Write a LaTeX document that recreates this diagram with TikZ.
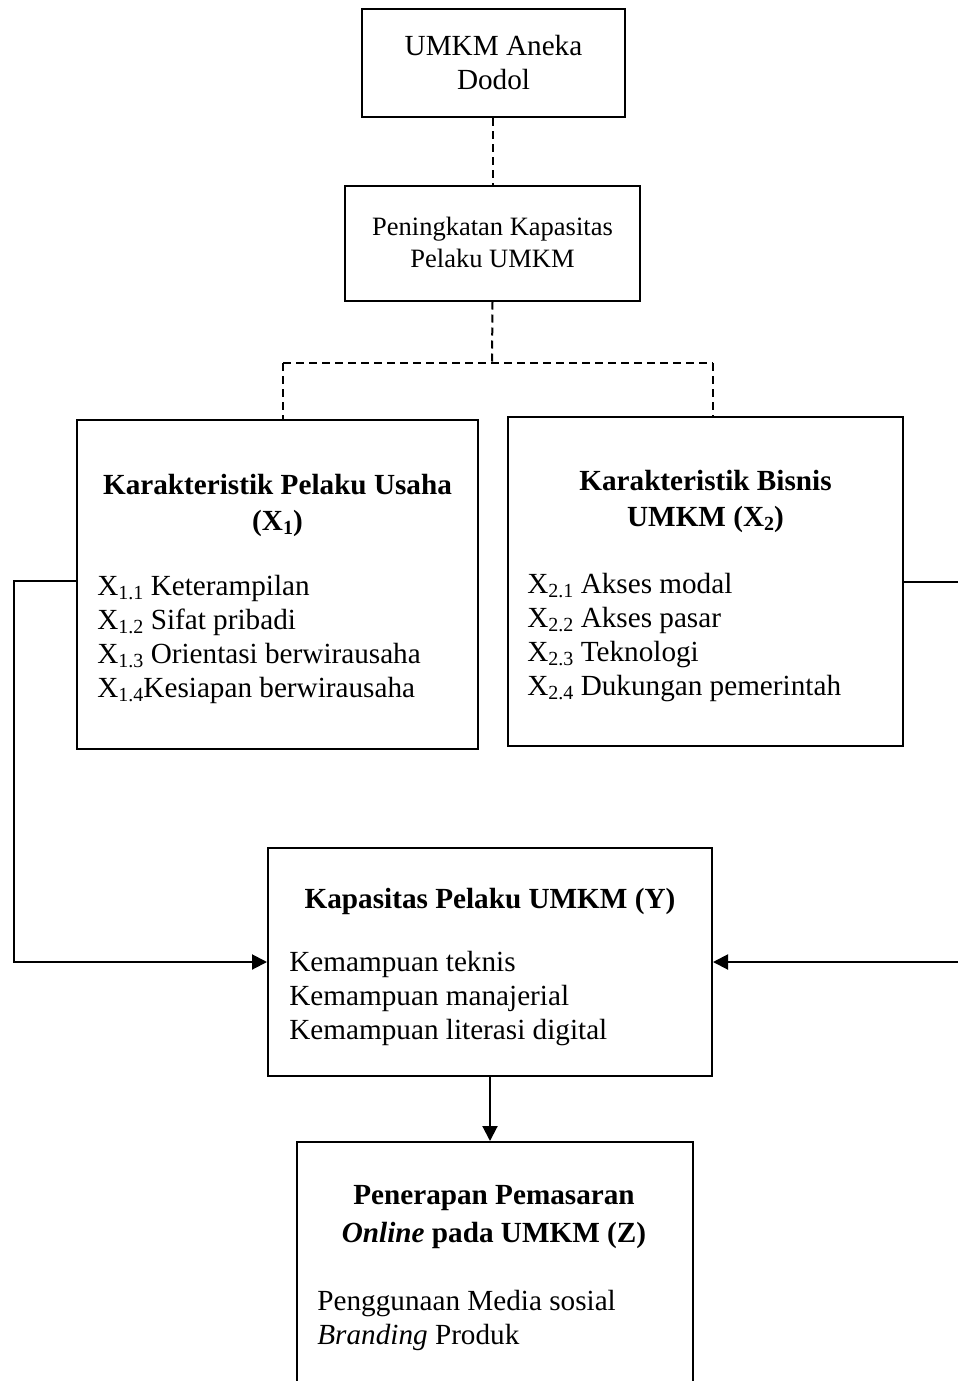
\documentclass[tikz,border=0pt]{standalone}
\usepackage{fontspec}
\setmainfont{Liberation Serif}
\usetikzlibrary{arrows.meta, positioning, calc}

\tikzset{
  kotak/.style={draw, line width=1pt, rectangle, inner sep=0pt},
  judul/.style={anchor=base, align=center, inner sep=0pt, font=\fontsize{14.6}{18}\selectfont\bfseries},
  isi/.style={anchor=base west, align=left, inner sep=0pt, font=\fontsize{14.6}{17}\selectfont},
  putus/.style={line width=1pt, dash pattern=on 4pt off 2.5pt},
  panah/.style={line width=1pt, -{Triangle[length=7.5pt,width=7.5pt]}}
}
\newcommand{\sbx}[1]{\raisebox{-0.3ex}{\fontsize{10}{10}\selectfont #1}}

\begin{document}
\begin{tikzpicture}[x=0.5pt, y=-0.5pt]

    \useasboundingbox (0,0) rectangle (958,1381);

    % kotak-kotak
    \node[kotak, minimum width=131.5pt, minimum height=54pt] (dodol) at (493.5,63) {};
    \node[kotak, minimum width=147.5pt, minimum height=57.5pt] (pening) at (492.5,243) {};
    \node[kotak, minimum width=200.5pt, minimum height=164.5pt] (pelaku) at (277.5,584.5) {};
    \node[kotak, minimum width=197.5pt, minimum height=164.5pt] (bisnis) at (705.5,581.5) {};
    \node[kotak, minimum width=222pt, minimum height=114pt] (kapasitas) at (490,962) {};
    \node[kotak, minimum width=198pt, minimum height=129pt] (pemasaran) at (495,1271) {};

    % teks (base = baris terakhir)
    \node[anchor=base, align=center, inner sep=0pt, font=\fontsize{14.6}{17}\selectfont] (tdodol) at (493.5,89) {UMKM Aneka\\Dodol};
    \node[anchor=base, align=center, inner sep=0pt, font=\fontsize{13.25}{16}\selectfont] (tpening) at (492.5,267) {Peningkatan Kapasitas\\Pelaku UMKM};

    \node[judul] (jpelaku) at (277.5,530) {Karakteristik Pelaku Usaha\\(X\sbx{1})};
    \node[isi] (ipelaku) at (97,697) {X\sbx{1.1} Keterampilan\\X\sbx{1.2} Sifat pribadi\\X\sbx{1.3} Orientasi berwirausaha\\X\sbx{1.4}Kesiapan berwirausaha};

    \node[judul] (jbisnis) at (705.5,526) {Karakteristik Bisnis\\UMKM (X\sbx{2})};
    \node[isi] (ibisnis) at (527,695) {X\sbx{2.1} Akses modal\\X\sbx{2.2} Akses pasar\\X\sbx{2.3} Teknologi\\X\sbx{2.4} Dukungan pemerintah};

    \node[judul] (jkapasitas) at (490,908) {Kapasitas Pelaku UMKM (Y)};
    \node[isi, font=\fontsize{14.6}{16.8}\selectfont] (ikapasitas) at (289,1039) {Kemampuan teknis\\Kemampuan manajerial\\Kemampuan literasi digital};

    \node[judul, font=\fontsize{14.6}{19}\selectfont\bfseries] (jpemasaran) at (494,1242) {Penerapan Pemasaran\\\textit{Online} pada UMKM (Z)};
    \node[isi, font=\fontsize{14.6}{16.6}\selectfont] (ipemasaran) at (317,1344) {Penggunaan Media sosial\\\textit{Branding} Produk};

    % garis putus-putus
    \coordinate (cabang) at (492,363);
    \coordinate (cabangkiri) at (283,363);
    \coordinate (cabangkanan) at (713,363);
    \draw[putus] (pening.north |- dodol.south) -- (pening.north);
    \draw[putus] (pening.south) -- (cabang);
    \draw[putus] (cabangkiri) -- (cabangkanan);
    \draw[putus] (cabangkiri) -- (cabangkiri |- pelaku.north);
    \draw[putus] (cabangkanan) -- (cabangkanan |- bisnis.north);

    % panah
    \coordinate (kiri) at (14,581);
    \coordinate (kanan) at (961,582);
    \draw[panah] (pelaku.west |- kiri) -- (kiri) |- (kapasitas.west);
    \draw[panah] (bisnis.east |- kanan) -- (kanan) |- (kapasitas.east);
    \draw[panah] (kapasitas.south) -- (kapasitas.south |- pemasaran.north);

\end{tikzpicture}
\end{document}
